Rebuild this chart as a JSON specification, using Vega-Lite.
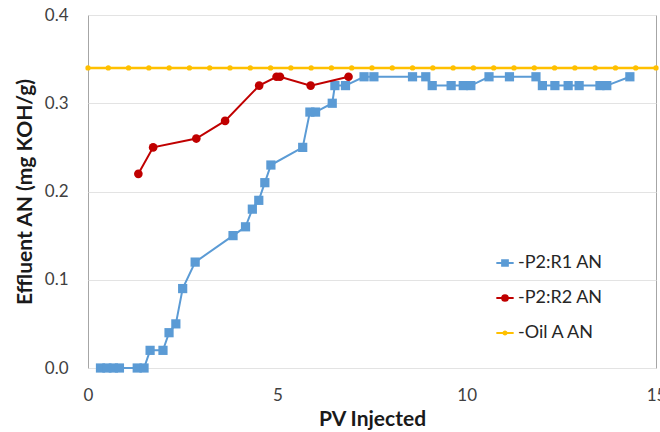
{
  "$schema": "https://vega.github.io/schema/vega-lite/v6.json",
  "width": 568,
  "height": 353,
  "autosize": {"type": "none"},
  "padding": {"left": 88, "top": 15, "right": 4, "bottom": 64},
  "background": "white",
  "config": {
    "font": "Lato",
    "view": {"stroke": "#A6A6A6", "strokeWidth": 1},
    "axis": {
      "domain": false,
      "ticks": false,
      "labelFont": "Lato",
      "labelFontSize": 17,
      "labelColor": "#404040",
      "titleFont": "Lato",
      "titleFontSize": 21,
      "titleFontWeight": "bold",
      "titleColor": "#1a1a1a"
    },
    "legend": {"labelFont": "Lato", "labelFontSize": 18, "labelColor": "#262626"}
  },
  "data": {
    "values": [
      {"series": "-P2:R1 AN", "pv": 0.33, "an": 0.0},
      {"series": "-P2:R1 AN", "pv": 0.5, "an": 0.0},
      {"series": "-P2:R1 AN", "pv": 0.67, "an": 0.0},
      {"series": "-P2:R1 AN", "pv": 0.83, "an": 0.0},
      {"series": "-P2:R1 AN", "pv": 1.3, "an": 0.0},
      {"series": "-P2:R1 AN", "pv": 1.48, "an": 0.0},
      {"series": "-P2:R1 AN", "pv": 1.64, "an": 0.02},
      {"series": "-P2:R1 AN", "pv": 1.98, "an": 0.02},
      {"series": "-P2:R1 AN", "pv": 2.14, "an": 0.04},
      {"series": "-P2:R1 AN", "pv": 2.32, "an": 0.05},
      {"series": "-P2:R1 AN", "pv": 2.5, "an": 0.09},
      {"series": "-P2:R1 AN", "pv": 2.83, "an": 0.12},
      {"series": "-P2:R1 AN", "pv": 3.83, "an": 0.15},
      {"series": "-P2:R1 AN", "pv": 4.16, "an": 0.16},
      {"series": "-P2:R1 AN", "pv": 4.34, "an": 0.18},
      {"series": "-P2:R1 AN", "pv": 4.51, "an": 0.19},
      {"series": "-P2:R1 AN", "pv": 4.67, "an": 0.21},
      {"series": "-P2:R1 AN", "pv": 4.83, "an": 0.23},
      {"series": "-P2:R1 AN", "pv": 5.67, "an": 0.25},
      {"series": "-P2:R1 AN", "pv": 5.86, "an": 0.29},
      {"series": "-P2:R1 AN", "pv": 6.01, "an": 0.29},
      {"series": "-P2:R1 AN", "pv": 6.45, "an": 0.3},
      {"series": "-P2:R1 AN", "pv": 6.52, "an": 0.32},
      {"series": "-P2:R1 AN", "pv": 6.8, "an": 0.32},
      {"series": "-P2:R1 AN", "pv": 7.29, "an": 0.33},
      {"series": "-P2:R1 AN", "pv": 7.55, "an": 0.33},
      {"series": "-P2:R1 AN", "pv": 8.57, "an": 0.33},
      {"series": "-P2:R1 AN", "pv": 8.92, "an": 0.33},
      {"series": "-P2:R1 AN", "pv": 9.09, "an": 0.32},
      {"series": "-P2:R1 AN", "pv": 9.59, "an": 0.32},
      {"series": "-P2:R1 AN", "pv": 9.91, "an": 0.32},
      {"series": "-P2:R1 AN", "pv": 10.11, "an": 0.32},
      {"series": "-P2:R1 AN", "pv": 10.59, "an": 0.33},
      {"series": "-P2:R1 AN", "pv": 11.13, "an": 0.33},
      {"series": "-P2:R1 AN", "pv": 11.83, "an": 0.33},
      {"series": "-P2:R1 AN", "pv": 12.0, "an": 0.32},
      {"series": "-P2:R1 AN", "pv": 12.33, "an": 0.32},
      {"series": "-P2:R1 AN", "pv": 12.68, "an": 0.32},
      {"series": "-P2:R1 AN", "pv": 12.97, "an": 0.32},
      {"series": "-P2:R1 AN", "pv": 13.52, "an": 0.32},
      {"series": "-P2:R1 AN", "pv": 13.7, "an": 0.32},
      {"series": "-P2:R1 AN", "pv": 14.31, "an": 0.33},
      {"series": "-P2:R2 AN", "pv": 1.33, "an": 0.22},
      {"series": "-P2:R2 AN", "pv": 1.72, "an": 0.25},
      {"series": "-P2:R2 AN", "pv": 2.86, "an": 0.26},
      {"series": "-P2:R2 AN", "pv": 3.62, "an": 0.28},
      {"series": "-P2:R2 AN", "pv": 4.52, "an": 0.32},
      {"series": "-P2:R2 AN", "pv": 4.98, "an": 0.33},
      {"series": "-P2:R2 AN", "pv": 5.07, "an": 0.33},
      {"series": "-P2:R2 AN", "pv": 5.88, "an": 0.32},
      {"series": "-P2:R2 AN", "pv": 6.88, "an": 0.33},
      {"series": "-Oil A AN", "pv": 0, "an": 0.34},
      {"series": "-Oil A AN", "pv": 0.536, "an": 0.34},
      {"series": "-Oil A AN", "pv": 1.071, "an": 0.34},
      {"series": "-Oil A AN", "pv": 1.607, "an": 0.34},
      {"series": "-Oil A AN", "pv": 2.143, "an": 0.34},
      {"series": "-Oil A AN", "pv": 2.679, "an": 0.34},
      {"series": "-Oil A AN", "pv": 3.214, "an": 0.34},
      {"series": "-Oil A AN", "pv": 3.75, "an": 0.34},
      {"series": "-Oil A AN", "pv": 4.286, "an": 0.34},
      {"series": "-Oil A AN", "pv": 4.821, "an": 0.34},
      {"series": "-Oil A AN", "pv": 5.357, "an": 0.34},
      {"series": "-Oil A AN", "pv": 5.893, "an": 0.34},
      {"series": "-Oil A AN", "pv": 6.429, "an": 0.34},
      {"series": "-Oil A AN", "pv": 6.964, "an": 0.34},
      {"series": "-Oil A AN", "pv": 7.5, "an": 0.34},
      {"series": "-Oil A AN", "pv": 8.036, "an": 0.34},
      {"series": "-Oil A AN", "pv": 8.571, "an": 0.34},
      {"series": "-Oil A AN", "pv": 9.107, "an": 0.34},
      {"series": "-Oil A AN", "pv": 9.643, "an": 0.34},
      {"series": "-Oil A AN", "pv": 10.179, "an": 0.34},
      {"series": "-Oil A AN", "pv": 10.714, "an": 0.34},
      {"series": "-Oil A AN", "pv": 11.25, "an": 0.34},
      {"series": "-Oil A AN", "pv": 11.786, "an": 0.34},
      {"series": "-Oil A AN", "pv": 12.321, "an": 0.34},
      {"series": "-Oil A AN", "pv": 12.857, "an": 0.34},
      {"series": "-Oil A AN", "pv": 13.393, "an": 0.34},
      {"series": "-Oil A AN", "pv": 13.929, "an": 0.34},
      {"series": "-Oil A AN", "pv": 14.464, "an": 0.34},
      {"series": "-Oil A AN", "pv": 15, "an": 0.34}
    ]
  },
  "encoding": {
    "x": {
      "field": "pv", "type": "quantitative", "title": "PV Injected",
      "scale": {"domain": [0, 15], "nice": false},
      "axis": {"values": [0, 5, 10, 15], "grid": false, "labelPadding": 19, "titlePadding": 5, "labelFlush": false, "labelOverlap": false}
    },
    "y": {
      "field": "an", "type": "quantitative", "title": "Effluent AN (mg KOH/g)",
      "scale": {"domain": [0, 0.4], "nice": false},
      "axis": {"values": [0, 0.1, 0.2, 0.3, 0.4], "format": ".1f", "grid": true, "gridColor": "#E3E3E3", "labelPadding": 20, "titlePadding": 9, "labelFlush": false}
    },
    "color": {
      "field": "series", "type": "nominal",
      "scale": {"domain": ["-P2:R1 AN", "-P2:R2 AN", "-Oil A AN"], "range": ["#5B9BD5", "#C00000", "#FFC000"]},
      "legend": {
        "title": null,
        "orient": "none",
        "legendX": 407,
        "legendY": 238,
        "symbolSize": 300,
        "rowPadding": 16,
        "labelOffset": 3,
        "symbolStrokeWidth": 2,
        "encode": {
          "symbols": {
            "update": {
              "shape": {"signal": "datum.value == '-P2:R1 AN' ? 'M-1,0H-0.33M0.33,0H1M-0.33,-0.33H0.33V0.33H-0.33Z' : datum.value == '-P2:R2 AN' ? 'M-1,0H-0.33M0.33,0H1M-0.33,0A0.33,0.33 0 1,0 0.33,0A0.33,0.33 0 1,0 -0.33,0Z' : 'M-1,0H-0.18M0.18,0H1M-0.18,0A0.18,0.18 0 1,0 0.18,0A0.18,0.18 0 1,0 -0.18,0Z'"},
              "fill": {"signal": "scale('color', datum.value)"},
              "stroke": {"signal": "scale('color', datum.value)"},
              "strokeWidth": {"value": 2},
              "opacity": {"value": 1}
            }
          }
        }
      }
    }
  },
  "layer": [
    {
      "transform": [{"filter": "datum.series == '-P2:R1 AN'"}],
      "mark": {"type": "line", "strokeWidth": 2, "point": {"shape": "square", "size": 85, "filled": true, "opacity": 1}}
    },
    {
      "transform": [{"filter": "datum.series == '-P2:R2 AN'"}],
      "mark": {"type": "line", "strokeWidth": 2, "point": {"shape": "circle", "size": 75, "filled": true, "opacity": 1}}
    },
    {
      "transform": [{"filter": "datum.series == '-Oil A AN'"}],
      "mark": {"type": "line", "strokeWidth": 2.5, "point": {"shape": "circle", "size": 28, "filled": true, "opacity": 1}}
    }
  ]
}
